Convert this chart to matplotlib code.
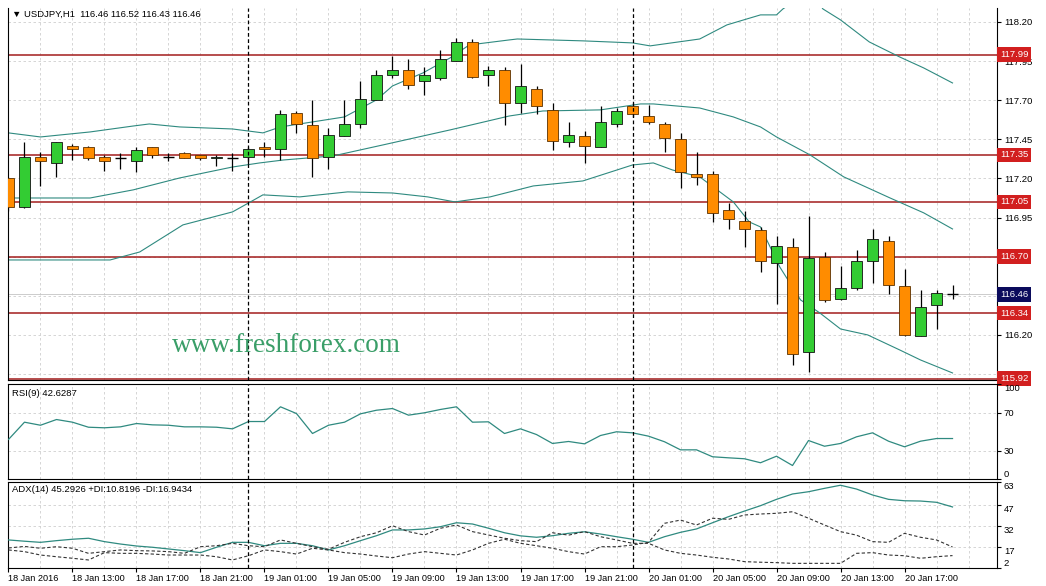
import matplotlib
matplotlib.use('Agg')
import matplotlib.pyplot as plt
import matplotlib.transforms as mtransforms
import numpy as np

plt.rcParams['font.family'] = ['Liberation Sans', 'DejaVu Sans']

# USDJPY H1 candles, 18 Jan 09:00 .. 20 Jan 20:00
opens = [117.20, 117.02, 117.34, 117.30, 117.41, 117.40, 117.34, 117.33, 117.31, 117.40,
         117.34, 117.36, 117.35, 117.33, 117.33, 117.34, 117.40, 117.39, 117.62, 117.54,
         117.34, 117.47, 117.55, 117.70, 117.86, 117.89, 117.82, 117.84, 117.95, 118.07,
         117.86, 117.89, 117.68, 117.77, 117.64, 117.43, 117.47, 117.40, 117.55, 117.66,
         117.60, 117.55, 117.45, 117.23, 117.23, 117.00, 116.93, 116.87, 116.66, 116.76,
         116.09, 116.70, 116.43, 116.50, 116.67, 116.80, 116.51, 116.19, 116.39, 116.46]
highs = [117.21, 117.43, 117.37, 117.43, 117.42, 117.41, 117.35, 117.36, 117.40, 117.40,
         117.36, 117.37, 117.35, 117.35, 117.36, 117.40, 117.43, 117.64, 117.63, 117.70,
         117.52, 117.70, 117.82, 117.89, 117.98, 117.96, 117.91, 118.02, 118.10, 118.09,
         117.92, 117.91, 117.93, 117.79, 117.68, 117.56, 117.50, 117.66, 117.65, 117.68,
         117.67, 117.56, 117.49, 117.37, 117.25, 117.04, 116.99, 116.89, 116.83, 116.82,
         116.96, 116.73, 116.64, 116.74, 116.88, 116.83, 116.62, 116.49, 116.49, 116.52]
lows = [116.99, 117.01, 117.15, 117.21, 117.32, 117.32, 117.25, 117.26, 117.24, 117.33,
        117.31, 117.33, 117.32, 117.28, 117.25, 117.29, 117.34, 117.32, 117.49, 117.21,
        117.26, 117.47, 117.52, 117.70, 117.84, 117.77, 117.73, 117.83, 117.95, 117.84,
        117.79, 117.54, 117.62, 117.61, 117.38, 117.40, 117.30, 117.40, 117.53, 117.59,
        117.55, 117.37, 117.14, 117.16, 116.92, 116.88, 116.76, 116.60, 116.40, 116.01,
        115.96, 116.41, 116.42, 116.49, 116.53, 116.46, 116.19, 116.19, 116.24, 116.43]
closes = [117.02, 117.34, 117.31, 117.43, 117.39, 117.33, 117.31, 117.33, 117.38, 117.35,
          117.34, 117.33, 117.33, 117.34, 117.33, 117.39, 117.39, 117.61, 117.55, 117.33,
          117.48, 117.55, 117.71, 117.86, 117.89, 117.80, 117.86, 117.96, 118.07, 117.85,
          117.89, 117.68, 117.79, 117.66, 117.44, 117.48, 117.41, 117.56, 117.63, 117.61,
          117.56, 117.46, 117.24, 117.21, 116.98, 116.94, 116.88, 116.67, 116.77, 116.08,
          116.69, 116.42, 116.50, 116.67, 116.81, 116.52, 116.20, 116.38, 116.47, 116.46]

# Bollinger bands (bar index, price)
bb_up_k = [0, 2, 5.1, 7.8, 8.8, 10.7, 14, 15.9, 17, 19, 21, 23, 24, 25.9, 27.6, 28.8, 31.3,
           31.8, 35.9, 39, 40.1, 43.2, 44.9, 47, 48, 48.4, 49.5, 50.4, 50.9, 52, 53.8, 55.7, 57.2, 59]
bb_up = [117.491, 117.465, 117.497, 117.535, 117.548, 117.529, 117.516, 117.491, 117.529,
         117.561, 117.593, 117.702, 117.791, 117.874, 117.970, 118.053, 118.085, 118.091,
         118.079, 118.066, 118.047, 118.091, 118.181, 118.245, 118.245, 118.283, 118.360,
         118.360, 118.283, 118.213, 118.072, 117.976, 117.906, 117.810]
bb_mid_k = [0, 5.1, 7.8, 10.7, 14, 15.7, 17.2, 20.3, 23.4, 27.6, 31.3, 33.4, 37, 39.5, 40.3,
            43.2, 45.3, 47, 48, 50.1, 52.2, 55.1, 57.2, 59]
bb_mid = [117.075, 117.075, 117.127, 117.203, 117.273, 117.299, 117.318, 117.344, 117.414,
          117.510, 117.599, 117.631, 117.638, 117.676, 117.676, 117.650, 117.593, 117.529,
          117.465, 117.350, 117.210, 117.075, 116.980, 116.877]
bb_lo_k = [0, 6.35, 8.2, 10.9, 14, 15, 15.9, 18.2, 21.2, 24, 26.2, 27.9, 30.1, 32.8, 35.9,
           39, 40.3, 41.5, 43.2, 45.3, 46.3, 47, 48.2, 49.5, 50.7, 52, 53.7, 55.7, 57, 59]
bb_lo = [116.679, 116.679, 116.730, 116.903, 116.986, 117.043, 117.095, 117.082, 117.114,
         117.107, 117.082, 117.050, 117.082, 117.152, 117.184, 117.286, 117.299, 117.254,
         117.210, 117.050, 116.922, 116.890, 116.635, 116.424, 116.341, 116.238, 116.200,
         116.104, 116.040, 115.957]

levels = [117.99, 117.35, 117.05, 116.70, 116.34, 115.92]
last_price = 116.46
price_ticks = [118.20, 117.95, 117.70, 117.45, 117.20, 116.95, 116.70, 116.45, 116.20, 115.95]
# tick labels that sit under a level box in the terminal are not visible there
hidden_ticks = [116.70, 116.45, 115.95]

rsi = [41.6, 59.8, 56.6, 62.6, 59.8, 54.5, 53.9, 54.9, 58.4, 57.0,
       56.6, 54.9, 54.9, 54.5, 52.8, 60.5, 60.5, 76.0, 68.9, 47.9,
       56.6, 59.8, 68.6, 72.4, 74.2, 67.2, 69.7, 73.2, 76.0, 59.8,
       60.2, 47.9, 52.8, 46.8, 37.4, 39.5, 37.0, 45.8, 49.7, 48.6,
       45.1, 39.2, 30.7, 30.7, 23.4, 22.3, 21.3, 17.1, 24.0, 14.2,
       40.5, 34.5, 37.4, 44.4, 48.6, 39.8, 33.9, 39.8, 42.6, 42.6]

adx = [21.9, 21.0, 20.2, 21.4, 22.4, 23.1, 20.7, 19.0, 17.6, 16.7,
       15.5, 14.3, 12.9, 16.7, 20.2, 20.2, 17.8, 19.5, 19.5, 17.8,
       14.8, 17.8, 21.4, 24.9, 29.0, 29.0, 29.7, 31.3, 34.1, 33.2,
       30.2, 27.0, 24.8, 23.8, 24.9, 26.6, 27.7, 26.1, 24.2, 22.4,
       20.2, 24.2, 27.3, 29.7, 34.1, 38.4, 42.4, 46.2, 50.7, 54.5,
       56.1, 58.5, 60.7, 58.0, 53.8, 50.7, 49.7, 49.5, 48.6, 45.3]
plus_di = [16.2, 17.3, 16.0, 17.1, 16.0, 12.4, 13.6, 14.8, 14.3, 14.1,
           13.6, 12.4, 17.1, 17.8, 19.5, 17.8, 17.1, 21.9, 19.5, 17.1,
           15.3, 20.2, 24.2, 27.0, 32.0, 27.8, 25.4, 30.2, 32.5, 27.8,
           25.4, 23.1, 21.4, 20.7, 27.0, 25.3, 27.8, 24.2, 21.9, 19.5,
           19.5, 14.8, 12.4, 11.2, 9.6, 8.4, 6.5, 6.1, 5.8, 5.3,
           5.3, 5.3, 5.3, 12.4, 12.9, 11.2, 10.7, 8.9, 10.0, 10.8]
minus_di = [14.8, 13.6, 11.2, 10.0, 8.9, 7.7, 12.9, 12.4, 12.4, 11.9,
            11.2, 11.2, 11.2, 10.0, 7.7, 10.7, 14.8, 13.6, 11.9, 16.0,
            14.8, 12.9, 11.9, 10.5, 9.3, 11.9, 13.6, 12.4, 11.2, 14.8,
            19.5, 22.4, 19.5, 17.8, 16.0, 13.6, 11.9, 17.1, 17.1, 18.3,
            20.2, 33.7, 36.0, 32.5, 37.3, 36.5, 39.6, 40.3, 40.8, 41.9,
            37.3, 32.5, 27.8, 25.3, 20.7, 20.2, 26.6, 23.8, 21.9, 16.9]

time_labels = ['18 Jan 2016', '18 Jan 13:00', '18 Jan 17:00', '18 Jan 21:00',
               '19 Jan 01:00', '19 Jan 05:00', '19 Jan 09:00', '19 Jan 13:00',
               '19 Jan 17:00', '19 Jan 21:00', '20 Jan 01:00', '20 Jan 05:00',
               '20 Jan 09:00', '20 Jan 13:00', '20 Jan 17:00']
day_breaks = [15, 39]

W, H = 1046, 586
fig = plt.figure(figsize=(W / 100, H / 100), dpi=100)


def px_box(x0, y0, x1, y1):
    return [x0 / W, 1 - y1 / H, (x1 - x0) / W, (y1 - y0) / H]


ax = fig.add_axes(px_box(8, 8, 997, 380))
ax_rsi = fig.add_axes(px_box(8, 384, 997, 479), sharex=ax)
ax_adx = fig.add_axes(px_box(8, 482, 997, 568), sharex=ax)

idx = np.arange(len(opens))
grid_kw = dict(color='#cfcfcf', lw=0.6, ls=(0, (3, 3)), zorder=0)
line_col = '#2f8a80'
fs = 6.8

for a in (ax, ax_rsi, ax_adx):
    a.set_facecolor('white')
    for k in range(0, 62, 2):
        a.axvline(k, **grid_kw)
    for k in day_breaks:
        a.axvline(k, color='black', lw=0.9, ls=(0, (3, 2)), zorder=6)
    for s in a.spines.values():
        s.set_linewidth(0.8)
    a.yaxis.tick_right()
    a.tick_params(axis='y', length=3, pad=2, labelsize=fs, direction='out')
    a.tick_params(axis='x', length=3, pad=1, labelsize=6.6)
ax.spines['top'].set_visible(False)
ax.set_xlim(-0.03, 61.78)

# ---- main price panel
ax.set_ylim(115.912, 118.289)
ax.set_yticks(price_ticks)
ax.set_yticklabels(['' if p in hidden_ticks else f'{p:.2f}' for p in price_ticks])
for p in price_ticks:
    ax.axhline(p, **grid_kw)
ax.tick_params(axis='x', bottom=False, labelbottom=False)
ax_rsi.tick_params(axis='x', bottom=False, labelbottom=False)

ax.plot(bb_up_k, bb_up, color=line_col, lw=0.8, zorder=2)
ax.plot(bb_mid_k, bb_mid, color=line_col, lw=0.8, zorder=2)
ax.plot(bb_lo_k, bb_lo, color=line_col, lw=0.8, zorder=2)

for lv in levels:
    ax.axhline(lv, color='#a31c1c', lw=1.1, zorder=1.5)
ax.axhline(last_price, color='#c4c4c4', lw=0.6, zorder=1.2)

o = np.array(opens); c = np.array(closes)
ax.vlines(idx, lows, highs, color='black', lw=0.9, zorder=3)
up = c > o
dn = c < o
doji = c == o
ax.bar(idx[up], (c - o)[up], bottom=o[up], width=0.66, color='#33cc33',
       edgecolor='#111111', lw=0.6, zorder=4)
ax.bar(idx[dn], (o - c)[dn], bottom=c[dn], width=0.66, color='#ff8c00',
       edgecolor='#5a3000', lw=0.6, zorder=4)
ax.hlines(c[doji], idx[doji] - 0.33, idx[doji] + 0.33, color='black', lw=1.0, zorder=4)

trans = mtransforms.blended_transform_factory(ax.transAxes, ax.transData)
for lv in levels:
    ax.text(1.003, lv, f'{lv:.2f}', transform=trans, fontsize=fs, color='white',
            va='center', ha='left', clip_on=False, zorder=10,
            bbox=dict(boxstyle='square,pad=0.3', fc='#d21f1f', ec='none'))
ax.text(1.003, last_price, f'{last_price:.2f}', transform=trans, fontsize=fs,
        color='white', va='center', ha='left', clip_on=False, zorder=10,
        bbox=dict(boxstyle='square,pad=0.3', fc='#0b0b5c', ec='none'))

fig.text(12 / W, 1 - 14 / H, '\u25bc USDJPY,H1  116.46 116.52 116.43 116.46',
         fontsize=fs, va='center', ha='left')
fig.text(172 / W, 1 - 346 / H, 'www.freshforex.com', fontsize=19.5, color='#3a9e68',
         family='Liberation Serif', va='center', ha='left')

# ---- RSI panel
ax_rsi.set_ylim(0, 100)
ax_rsi.set_yticks([100, 70, 30, 0])
ax_rsi.set_yticklabels(['100', '70', '30', '0'])
for t in ax_rsi.get_yticklabels():
    if t.get_text() == '100':
        t.set_va('top')
    elif t.get_text() == '0':
        t.set_va('bottom')
for lv in (70, 30):
    ax_rsi.axhline(lv, **grid_kw)
ax_rsi.plot(idx, rsi, color=line_col, lw=0.9, zorder=3)
fig.text(12 / W, 1 - 393 / H, 'RSI(9) 42.6287', fontsize=fs, va='center', ha='left')

# ---- ADX panel
ax_adx.set_ylim(2, 63)
adx_ticks = [63, 47, 32, 17, 2]
ax_adx.set_yticks(adx_ticks)
ax_adx.set_yticklabels([str(v) for v in adx_ticks])
for t in ax_adx.get_yticklabels():
    t.set_va('bottom' if t.get_text() == '2' else 'top')
for lv in (47, 32, 17):
    ax_adx.axhline(lv, **grid_kw)
ax_adx.plot(idx, adx, color=line_col, lw=0.9, zorder=3)
ax_adx.plot(idx, plus_di, color='#333333', lw=0.8, ls=(0, (3, 2)), zorder=3)
ax_adx.plot(idx, minus_di, color='#333333', lw=0.8, ls=(0, (3, 2)), zorder=3)
fig.text(12 / W, 1 - 490 / H, 'ADX(14) 45.2926 +DI:10.8196 -DI:16.9434',
         fontsize=fs, va='center', ha='left')

ax_adx.set_xticks(np.arange(0, 60, 4))
ax_adx.set_xticklabels(time_labels)
for t in ax_adx.get_xticklabels():
    t.set_ha('left')

fig.savefig('out.png', dpi=100, facecolor='white')
